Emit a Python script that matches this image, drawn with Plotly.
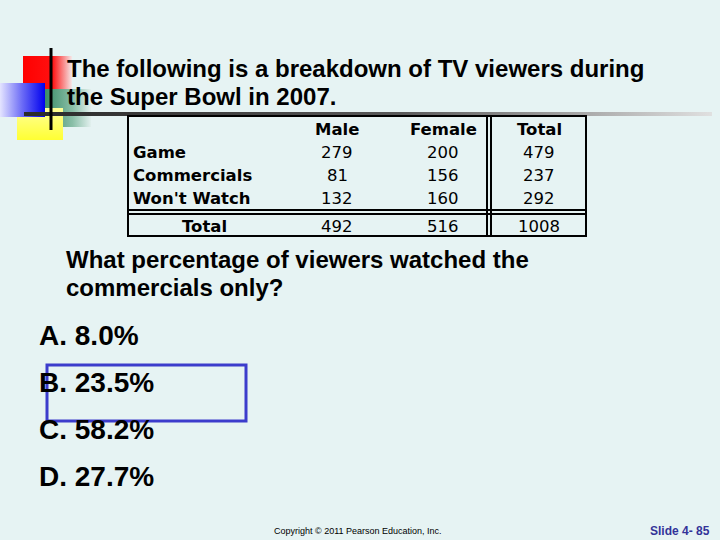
"""Slide 4-85: Super Bowl TV viewers two-way table with a multiple-choice question."""

import plotly.graph_objects as go

# Slide data
TITLE_LINES = ["The following is a breakdown of TV viewers during", "the Super Bowl in 2007."]
COL_HEADERS = ["Male", "Female", "Total"]
ROW_LABELS = ["Game", "Commercials", "Won't Watch"]
MALE = [279, 81, 132]
FEMALE = [200, 156, 160]
ROW_TOTALS = [479, 237, 292]
COL_TOTALS = [492, 516, 1008]
QUESTION_LINES = ["What percentage of viewers watched the", "commercials only?"]
CHOICE_LETTERS = ["A.", "B.", "C.", "D."]
CHOICES = ["8.0%", "23.5%", "58.2%", "27.7%"]
FOOTER = "Copyright © 2011 Pearson Education, Inc."
SLIDE_NO = "Slide 4- 85"

BG = "#E6F3F3"
BLACK = "#000000"
BOX_BLUE = "#3C3CCC"
SLIDE_BLUE = "#333399"
ARIAL = "Arial, Liberation Sans, sans-serif"
TABLE_FONT = "DejaVu Sans, Verdana, sans-serif"

fig = go.Figure()


def gradient_rect(x0, x1, y0, y1, colors, kind="horizontal"):
    fig.add_trace(
        go.Scatter(
            x=[x0, x1, x1, x0, x0],
            y=[y0, y0, y1, y1, y0],
            mode="none",
            fill="toself",
            fillgradient=dict(type=kind, colorscale=colors),
            hoverinfo="skip",
            showlegend=False,
        )
    )


# decorative squares in the corner
gradient_rect(23, 72, 56, 89, [[0, "#FF0000"], [0.6, "#FF1010"], [1, "#F4E8E8"]])
gradient_rect(45, 91, 89, 127, [[0, "#3A8C66"], [0.6, "#8ABFA8"], [1, "#E2F0EE"]])
gradient_rect(17, 63, 108, 140, [[0, "#FFFF33"], [1, "#FFFF99"]], kind="vertical")
gradient_rect(0, 45, 83, 117, [[0, "#E4E4FF"], [0.5, "#6A6AF6"], [1, "#0000EE"]])
# rule under the title, fading to the right
gradient_rect(24, 712, 112, 116, [[0, "#2A2A2A"], [0.55, "#5A5A5A"], [1, "#E0E0E0"]])

shapes = [
    dict(type="line", x0=51, x1=51, y0=48, y1=130, line=dict(color=BLACK, width=3)),
    # table frame
    dict(type="rect", x0=128, x1=586, y0=116, y1=236, line=dict(color=BLACK, width=2)),
    dict(type="line", x0=487, x1=487, y0=116, y1=236, line=dict(color=BLACK, width=2)),
    dict(type="line", x0=491, x1=491, y0=116, y1=236, line=dict(color=BLACK, width=2)),
    dict(type="line", x0=128, x1=586, y0=210, y1=210, line=dict(color=BLACK, width=2)),
    dict(type="line", x0=128, x1=586, y0=214, y1=214, line=dict(color=BLACK, width=2)),
    # answer box
    dict(type="rect", x0=47, x1=246, y0=365, y1=421, line=dict(color=BOX_BLUE, width=3)),
]

annotations = []


def text(x, y, s, size, bold=False, anchor="left", family=ARIAL, color=BLACK):
    annotations.append(
        dict(
            x=x, y=y, xref="x", yref="y",
            text=f"<b>{s}</b>" if bold else s,
            showarrow=False,
            xanchor=anchor, yanchor="middle",
            font=dict(family=family, size=size, color=color),
        )
    )


for i, line in enumerate(TITLE_LINES):
    text(65, 68 + 28 * i, line, 24, bold=True)

# table
col_x = [337, 443, 539]
row_y = [152, 175, 198]
for cx, head in zip(col_x, COL_HEADERS):
    text(cx, 129, head, 16.5, bold=True, anchor="center", family=TABLE_FONT)
for ry, label, m, f, t in zip(row_y, ROW_LABELS, MALE, FEMALE, ROW_TOTALS):
    text(131, ry, label, 16.5, bold=True, family=TABLE_FONT)
    for cx, v in zip(col_x, [m, f, t]):
        text(cx, ry, str(v), 16.5, anchor="center", family=TABLE_FONT)
text(204, 226, "Total", 16.5, bold=True, anchor="center", family=TABLE_FONT)
for cx, v in zip(col_x, COL_TOTALS):
    text(cx, 226, str(v), 16.5, anchor="center", family=TABLE_FONT)

for i, line in enumerate(QUESTION_LINES):
    text(64, 259 + 28 * i, line, 24, bold=True)

for i, (letter, choice) in enumerate(zip(CHOICE_LETTERS, CHOICES)):
    text(37, 335 + 47 * i, f"{letter} {choice}", 28, bold=True)

text(272, 531, FOOTER, 9)
text(712, 531, SLIDE_NO, 12, bold=True, anchor="right", color=SLIDE_BLUE)

fig.update_layout(
    width=720,
    height=540,
    margin=dict(l=0, r=0, t=0, b=0),
    paper_bgcolor=BG,
    plot_bgcolor=BG,
    xaxis=dict(range=[0, 720], visible=False, fixedrange=True),
    yaxis=dict(range=[540, 0], visible=False, fixedrange=True),
    shapes=shapes,
    annotations=annotations,
    showlegend=False,
)

# the page has a default 8px body margin; drop it so the slide fills the window
fig.write_html(
    "out.html",
    config={"displayModeBar": False},
    post_script="document.body.style.margin='0';document.body.style.overflow='hidden';",
)
